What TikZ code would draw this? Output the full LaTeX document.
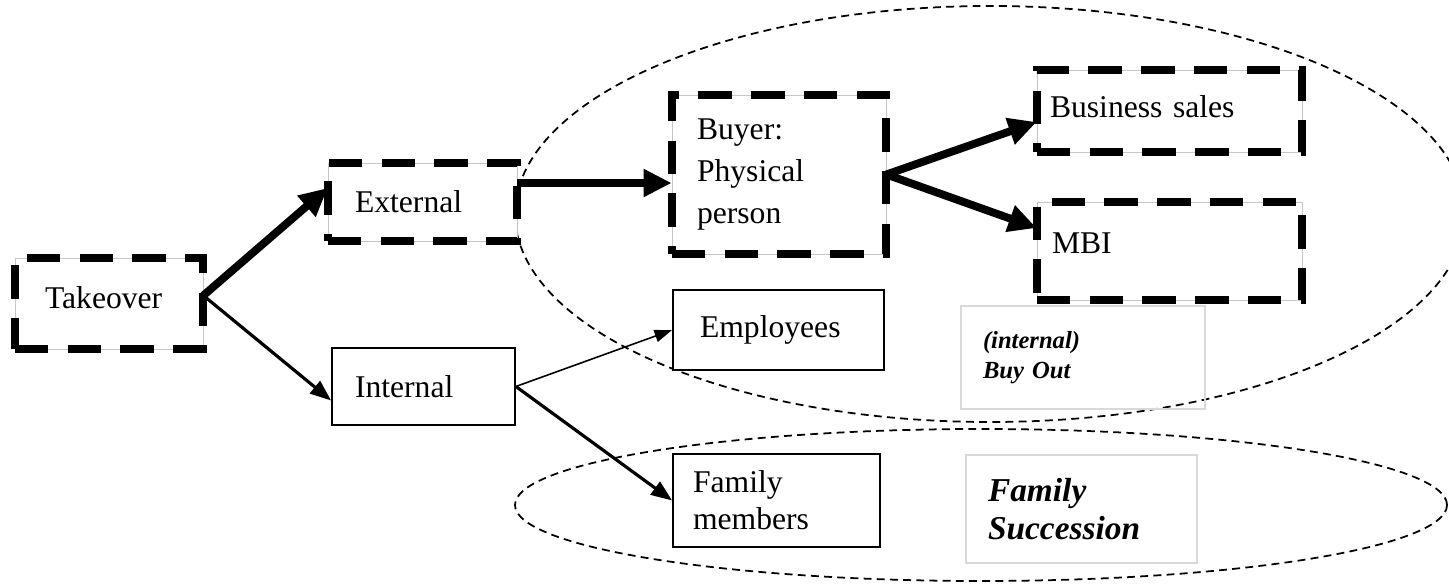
\documentclass[tikz,border=0pt]{standalone}
\usepackage{fontspec}
\setmainfont{Liberation Serif}
\usetikzlibrary{arrows.meta,calc}

\tikzset{
  every node/.style={font=\fontsize{18}{24}\selectfont, align=left, inner ysep=0pt},
  dashbox/.style={draw=gray!45, line width=0.4pt, fill=white,
    postaction={draw=black, line width=5pt, dash pattern=on 19pt off 11pt}},
  plainbox/.style={draw=black, line width=1pt, fill=white},
  labelbox/.style={draw=gray!30, line width=0.6pt},
  ring/.style={line width=1pt, dash pattern=on 4.5pt off 3pt},
  bigarrow/.style={line width=4.5pt, -{Triangle[length=16pt,width=15pt]}},
  midarrow/.style={line width=1.8pt, -{Triangle[length=12pt,width=9pt]}},
  thinarrow/.style={line width=0.9pt, -{Triangle[length=10pt,width=7pt]}}
}

\begin{document}
\begin{tikzpicture}
\useasboundingbox (0,0) rectangle (28.98,11.68);

\draw[ring] (19.8,7.4) ellipse [x radius=9.5cm, y radius=4.16cm];
\draw[ring] (19.62,1.58) ellipse [x radius=9.32cm, y radius=1.52cm];

\node[dashbox, text width=2.56cm, inner xsep=0.6cm, minimum height=1.82cm, text depth=7pt] (take) at (2.18,5.61) {Takeover};
\node[dashbox, text width=2.7cm, inner xsep=0.54cm, minimum height=1.56cm] (ext) at (8.45,7.64) {External};
\node[plainbox, text width=2.74cm, inner xsep=0.46cm, minimum height=1.54cm] (int) at (8.47,3.95) {Internal};
\node[dashbox, text width=3.28cm, inner xsep=0.5cm, minimum height=3.18cm] (buyer) at (15.58,8.19) {Buyer:\\Physical\\person};
\node[dashbox, text width=4.78cm, inner xsep=0.26cm, minimum height=1.64cm, text depth=5pt] (sales) at (23.39,9.46) {Business sales};
\node[dashbox, text width=4.7cm, inner xsep=0.3cm, minimum height=1.96cm, text depth=9pt] (mbi) at (23.39,6.66) {MBI};
\node[plainbox, text width=3.14cm, inner xsep=0.54cm, minimum height=1.6cm] (emp) at (15.57,5.08) {Employees};
\node[plainbox, text width=3.34cm, inner xsep=0.4cm, minimum height=1.86cm, font=\fontsize{18}{21}\selectfont] (fam) at (15.53,1.67) {Family\\members};
\node[labelbox, text width=4.0cm, inner xsep=0.44cm, minimum height=2.06cm, font=\fontsize{14}{17}\selectfont\bfseries\itshape] (buyout) at (21.66,4.53) {(internal)\\Buy Out};
\node[labelbox, text width=3.74cm, inner xsep=0.44cm, minimum height=2.16cm, font=\fontsize{19}{22}\selectfont\bfseries\itshape] (succ) at (21.63,1.5) {Family\\Succession};

\draw[bigarrow] ([yshift=0.16cm]take.east) -- ([yshift=0.28cm]ext.west);
\draw[midarrow] ([yshift=0.16cm]take.east) -- ([yshift=-0.28cm]int.west);
\draw[bigarrow] ([yshift=0.38cm]ext.east) -- ([yshift=0.38cm]ext.east -| buyer.west);
\draw[bigarrow] (buyer.east) -- ([yshift=-0.22cm]sales.west);
\draw[bigarrow] (buyer.east) -- ([yshift=0.46cm]mbi.west);
\draw[thinarrow] (int.east) -- (emp.west);
\draw[midarrow] (int.east) -- (fam.west);

\end{tikzpicture}
\end{document}
